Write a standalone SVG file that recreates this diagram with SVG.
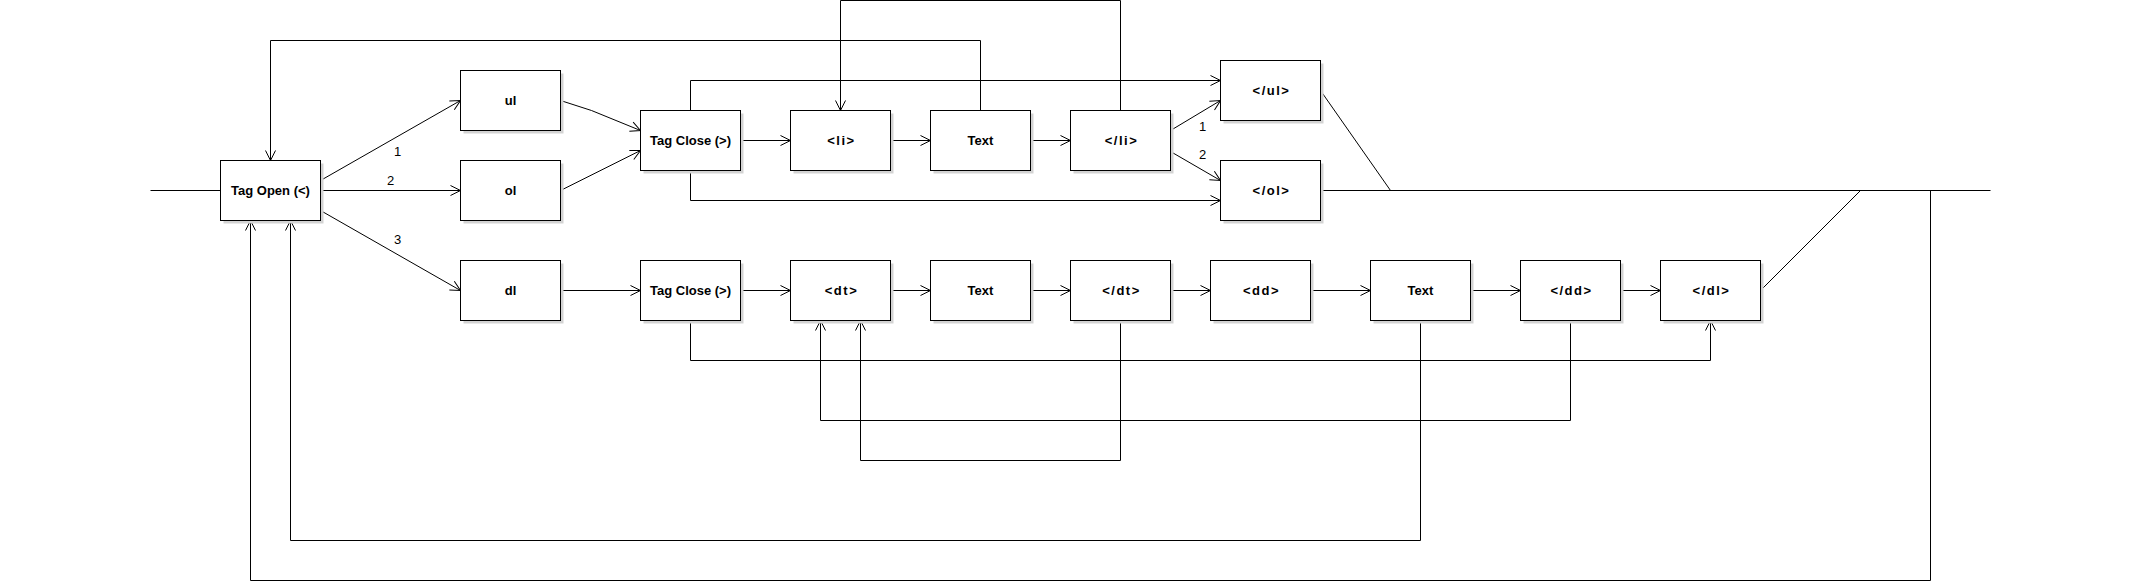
<svg xmlns="http://www.w3.org/2000/svg" width="2155" height="585" viewBox="0 0 2155 585">
<style>
.box rect.b{fill:#fff;stroke:#000;stroke-width:1}
.box rect.s{fill:#d3d3d3;stroke:none}
.box text{font-family:"Liberation Sans",Arial,sans-serif;font-size:13px;font-weight:bold;text-anchor:middle;dominant-baseline:central;fill:#000}
.box text.t{letter-spacing:1.5px}
#connectors path{fill:none;stroke:#000;stroke-width:1}
#connectors path.a{marker-end:url(#arr)}
.lbl{font-family:"Liberation Sans",Arial,sans-serif;font-size:13px;text-anchor:middle;dominant-baseline:central;fill:#000}
</style>
<defs>
<marker id="arr" markerUnits="userSpaceOnUse" markerWidth="14" markerHeight="14" viewBox="-12 -7 14 14" refX="0" refY="0" orient="auto">
<path d="M-10,-5 L0,0 L-10,5" fill="none" stroke="#000" stroke-width="1"/>
</marker>
</defs>
<rect width="2155" height="585" fill="#fff"/>
<g transform="translate(0.5,0.5)">
<g id="connectors">
<path d="M150,190 L220,190"/>
<path class="a" d="M320,180 L460,100"/>
<path class="a" d="M320,190 L460,190"/>
<path class="a" d="M320,210 L460,290"/>
<path class="a" d="M560,100 L591,110 L640,130"/>
<path class="a" d="M560,190 L640,150"/>
<path class="a" d="M560,290 L640,290"/>
<path class="a" d="M740,140 L790,140"/>
<path class="a" d="M890,140 L930,140"/>
<path class="a" d="M1030,140 L1070,140"/>
<path class="a" d="M1170,130 L1220,100"/>
<path class="a" d="M1170,151 L1220,180"/>
<path class="a" d="M980,110 L980,40 L270,40 L270,160"/>
<path class="a" d="M1120,110 L1120,0 L840,0 L840,110"/>
<path class="a" d="M690,110 L690,80 L1220,80"/>
<path class="a" d="M690,170 L690,200 L1220,200"/>
<path d="M1320,90 L1390,190"/>
<path d="M1320,190 L1990,190"/>
<path d="M1760,290 L1860,190"/>
<path class="a" d="M740,290 L790,290"/>
<path class="a" d="M890,290 L930,290"/>
<path class="a" d="M1030,290 L1070,290"/>
<path class="a" d="M1170,290 L1210,290"/>
<path class="a" d="M1310,290 L1370,290"/>
<path class="a" d="M1470,290 L1520,290"/>
<path class="a" d="M1620,290 L1660,290"/>
<path class="a" d="M690,320 L690,360 L1710,360 L1710,320"/>
<path class="a" d="M1570,320 L1570,420 L820,420 L820,320"/>
<path class="a" d="M1120,320 L1120,460 L860,460 L860,320"/>
<path class="a" d="M1420,320 L1420,540 L290,540 L290,220"/>
<path class="a" d="M1930,190 L1930,580 L250,580 L250,220"/>
</g>
<text class="lbl" x="397" y="151">1</text>
<text class="lbl" x="390" y="180">2</text>
<text class="lbl" x="397" y="239">3</text>
<text class="lbl" x="1202" y="126">1</text>
<text class="lbl" x="1202" y="154">2</text>
<g id="tagopen" class="box"><rect class="s" x="223" y="163" width="100" height="60"/><rect class="b" x="220" y="160" width="100" height="60"/><text x="270" y="190">Tag Open (&lt;)</text></g>
<g id="ul" class="box"><rect class="s" x="463" y="73" width="100" height="60"/><rect class="b" x="460" y="70" width="100" height="60"/><text x="510" y="100">ul</text></g>
<g id="ol" class="box"><rect class="s" x="463" y="163" width="100" height="60"/><rect class="b" x="460" y="160" width="100" height="60"/><text x="510" y="190">ol</text></g>
<g id="dl" class="box"><rect class="s" x="463" y="263" width="100" height="60"/><rect class="b" x="460" y="260" width="100" height="60"/><text x="510" y="290">dl</text></g>
<g id="tagclose1" class="box"><rect class="s" x="643" y="113" width="100" height="60"/><rect class="b" x="640" y="110" width="100" height="60"/><text x="690" y="140">Tag Close (&gt;)</text></g>
<g id="li" class="box"><rect class="s" x="793" y="113" width="100" height="60"/><rect class="b" x="790" y="110" width="100" height="60"/><text class="t" x="841" y="140">&lt;li&gt;</text></g>
<g id="text1" class="box"><rect class="s" x="933" y="113" width="100" height="60"/><rect class="b" x="930" y="110" width="100" height="60"/><text x="980" y="140">Text</text></g>
<g id="liclose" class="box"><rect class="s" x="1073" y="113" width="100" height="60"/><rect class="b" x="1070" y="110" width="100" height="60"/><text class="t" x="1121" y="140">&lt;/li&gt;</text></g>
<g id="ulclose" class="box"><rect class="s" x="1223" y="63" width="100" height="60"/><rect class="b" x="1220" y="60" width="100" height="60"/><text class="t" x="1271" y="90">&lt;/ul&gt;</text></g>
<g id="olclose" class="box"><rect class="s" x="1223" y="163" width="100" height="60"/><rect class="b" x="1220" y="160" width="100" height="60"/><text class="t" x="1271" y="190">&lt;/ol&gt;</text></g>
<g id="tagclose2" class="box"><rect class="s" x="643" y="263" width="100" height="60"/><rect class="b" x="640" y="260" width="100" height="60"/><text x="690" y="290">Tag Close (&gt;)</text></g>
<g id="dt" class="box"><rect class="s" x="793" y="263" width="100" height="60"/><rect class="b" x="790" y="260" width="100" height="60"/><text class="t" x="841" y="290">&lt;dt&gt;</text></g>
<g id="text2" class="box"><rect class="s" x="933" y="263" width="100" height="60"/><rect class="b" x="930" y="260" width="100" height="60"/><text x="980" y="290">Text</text></g>
<g id="dtclose" class="box"><rect class="s" x="1073" y="263" width="100" height="60"/><rect class="b" x="1070" y="260" width="100" height="60"/><text class="t" x="1121" y="290">&lt;/dt&gt;</text></g>
<g id="dd" class="box"><rect class="s" x="1213" y="263" width="100" height="60"/><rect class="b" x="1210" y="260" width="100" height="60"/><text class="t" x="1261" y="290">&lt;dd&gt;</text></g>
<g id="text3" class="box"><rect class="s" x="1373" y="263" width="100" height="60"/><rect class="b" x="1370" y="260" width="100" height="60"/><text x="1420" y="290">Text</text></g>
<g id="ddclose" class="box"><rect class="s" x="1523" y="263" width="100" height="60"/><rect class="b" x="1520" y="260" width="100" height="60"/><text class="t" x="1571" y="290">&lt;/dd&gt;</text></g>
<g id="dlclose" class="box"><rect class="s" x="1663" y="263" width="100" height="60"/><rect class="b" x="1660" y="260" width="100" height="60"/><text class="t" x="1711" y="290">&lt;/dl&gt;</text></g>
</g>
</svg>
